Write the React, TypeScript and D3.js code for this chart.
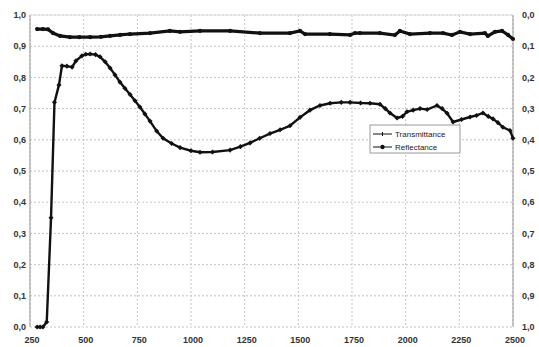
import * as d3 from "d3";

// wavelength (nm) / transmittance, left axis
const transWl = [283, 297, 310, 328, 348, 364, 385, 399, 422, 446, 464, 492, 510, 530, 555, 576, 600, 623, 646, 669, 692, 716, 739, 762, 785, 809, 840, 870, 910, 949, 1000, 1042, 1100, 1182, 1230, 1275, 1320, 1368, 1415, 1461, 1508, 1554, 1601, 1648, 1700, 1741, 1790, 1834, 1880, 1905, 1927, 1960, 1985, 2006, 2035, 2067, 2100, 2146, 2170, 2193, 2221, 2260, 2300, 2330, 2360, 2385, 2407, 2430, 2453, 2486, 2500];
const transVal = [0.0, 0.0, 0.0, 0.016, 0.35, 0.72, 0.776, 0.837, 0.836, 0.833, 0.853, 0.869, 0.874, 0.875, 0.873, 0.866, 0.85, 0.83, 0.808, 0.785, 0.765, 0.745, 0.725, 0.705, 0.683, 0.66, 0.628, 0.605, 0.588, 0.575, 0.565, 0.56, 0.561, 0.567, 0.578, 0.59, 0.605, 0.62, 0.632, 0.645, 0.672, 0.695, 0.71, 0.717, 0.72, 0.72, 0.718, 0.717, 0.714, 0.7, 0.686, 0.67, 0.675, 0.69, 0.695, 0.7, 0.697, 0.71, 0.7, 0.685, 0.657, 0.665, 0.673, 0.678, 0.686, 0.675, 0.667, 0.655, 0.64, 0.63, 0.605];

// wavelength (nm) / reflectance, right axis (reversed)
const reflWl = [283, 310, 334, 357, 390, 436, 480, 530, 580, 623, 670, 716, 809, 902, 949, 1042, 1182, 1321, 1461, 1508, 1531, 1647, 1741, 1764, 1787, 1880, 1950, 1973, 2020, 2113, 2174, 2216, 2253, 2300, 2369, 2383, 2416, 2449, 2477, 2500];
const reflVal = [0.045, 0.045, 0.046, 0.058, 0.067, 0.071, 0.071, 0.071, 0.07, 0.067, 0.064, 0.061, 0.058, 0.051, 0.054, 0.051, 0.051, 0.058, 0.058, 0.051, 0.061, 0.061, 0.064, 0.058, 0.058, 0.058, 0.064, 0.051, 0.061, 0.058, 0.058, 0.064, 0.054, 0.061, 0.058, 0.067, 0.054, 0.051, 0.064, 0.077];

const xTicks = [250, 500, 750, 1000, 1250, 1500, 1750, 2000, 2250, 2500];
const yTicks = [0, 0.1, 0.2, 0.3, 0.4, 0.5, 0.6, 0.7, 0.8, 0.9, 1.0];
const seriesNames = ["Transmittance", "Reflectance"];

const W = 539;
const H = 347;
const margin = { top: 15, right: 26, bottom: 20, left: 30 };

export default function App() {
  const x = d3.scaleLinear().domain([250, 2500]).range([margin.left, W - margin.right]);
  const yL = d3.scaleLinear().domain([0, 1]).range([H - margin.bottom, margin.top]);
  const yR = d3.scaleLinear().domain([0, 1]).range([margin.top, H - margin.bottom]);
  const fmt = (v) => d3.format(".1f")(v).replace(".", ",");

  const trans = transWl.map((w, i) => [w, transVal[i]]);
  const refl = reflWl.map((w, i) => [w, reflVal[i]]);
  const lineT = d3.line().x((d) => x(d[0])).y((d) => yL(d[1]));
  const lineR = d3.line().x((d) => x(d[0])).y((d) => yR(d[1]));

  const x0 = margin.left;
  const x1 = W - margin.right;
  const y0 = margin.top;
  const y1 = H - margin.bottom;
  const font = "'Liberation Sans', Arial, sans-serif";

  return (
    <svg width={W} height={H} style={{ position: "absolute", left: 0, top: 0, background: "#fff" }}>
      {/* grid */}
      {xTicks.map((t) => (
        <line key={"gx" + t} x1={x(t)} x2={x(t)} y1={y0} y2={y1} stroke="#c4c4c4" strokeDasharray="2,2" />
      ))}
      {yTicks.map((t) => (
        <line key={"gy" + t} x1={x0} x2={x1} y1={yL(t)} y2={yL(t)} stroke="#c4c4c4" strokeDasharray="2,2" />
      ))}
      {/* frame */}
      <line x1={x0} x2={x0} y1={y0} y2={y1} stroke="#999" />
      <line x1={x1} x2={x1} y1={y0} y2={y1} stroke="#999" />
      <line x1={x0} x2={x1} y1={y0} y2={y0} stroke="#ddd" />

      {/* tick labels */}
      {yTicks.map((t) => (
        <text key={"tl" + t} x={x0 - 4} y={yL(t)} dy="0.35em" textAnchor="end" fontSize={9} fontWeight="bold" fill="#333" fontFamily={font}>
          {fmt(t)}
        </text>
      ))}
      {yTicks.map((t) => (
        <text key={"tr" + t} x={x1 + 9} y={yR(t)} dy="0.35em" textAnchor="start" fontSize={9} fontWeight="bold" fill="#333" fontFamily={font}>
          {fmt(t)}
        </text>
      ))}
      {xTicks.map((t) => (
        <text key={"tx" + t} x={x(t) + 2} y={y1 + 16} textAnchor="middle" fontSize={9} fontWeight="bold" fill="#333" fontFamily={font}>
          {t}
        </text>
      ))}

      {/* series */}
      <path d={lineR(refl)} fill="none" stroke="#111" strokeWidth={3.2} />
      {refl.map((d, i) => (
        <circle key={"mr" + i} cx={x(d[0])} cy={yR(d[1])} r={2.1} fill="#111" />
      ))}
      <path d={lineT(trans)} fill="none" stroke="#111" strokeWidth={2.4} />
      {trans.map((d, i) => (
        <rect key={"mt" + i} x={x(d[0]) - 1.8} y={yL(d[1]) - 1.8} width={3.6} height={3.6} fill="#111" transform={`rotate(45 ${x(d[0])} ${yL(d[1])})`} />
      ))}

      {/* legend */}
      <g transform="translate(370,125)">
        <rect x={0} y={0} width={90} height={28} fill="#fff" stroke="#999" />
        {seriesNames.map((name, i) => (
          <g key={name} transform={`translate(0,${9 + i * 13})`}>
            <line x1={3} x2={22} y1={0} y2={0} stroke="#111" strokeWidth={1} />
            {i === 0 ? (
              <line x1={12.5} x2={12.5} y1={-2} y2={2} stroke="#111" />
            ) : (
              <circle cx={12.5} cy={0} r={2.2} fill="#111" />
            )}
            <text x={25} y={0} dy="0.35em" fontSize={8} fill="#222" fontFamily={font}>
              {name}
            </text>
          </g>
        ))}
      </g>
    </svg>
  );
}
